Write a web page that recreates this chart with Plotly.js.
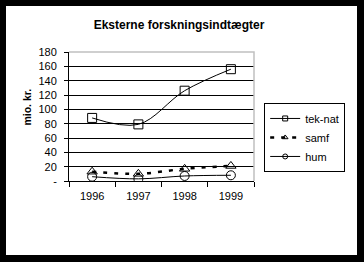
<!DOCTYPE html>
<html>
<head>
<meta charset="utf-8">
<script src="https://cdn.plot.ly/plotly-3.0.1.min.js"></script>
<style>
  html, body { margin: 0; padding: 0; background: #000; width: 364px; height: 262px; overflow: hidden; }
  #chart { position: absolute; left: 6px; top: 6px; width: 351px; height: 249px; background: #fff; }
</style>
</head>
<body>
<div id="chart"></div>
<script>
const years = ["1996", "1997", "1998", "1999"];
const tekNat = [88, 79, 126, 156];
const samf = [13, 10, 17, 21];
const hum = [6, 3, 7, 8];
const seriesNames = ["tek-nat", "samf", "hum"];
const yTickVals = [0, 20, 40, 60, 80, 100, 120, 140, 160, 180];
const yTickText = ["-", "20", "40", "60", "80", "100", "120", "140", "160", "180"];

const font = "Liberation Sans, Arial, sans-serif";

const styles = [
  { line: { color: "#000", width: 1, shape: "spline" }, symbol: "square-open" },
  { line: { color: "#000", width: 2.5, dash: "4px,7px", shape: "spline" }, symbol: "triangle-up-open" },
  { line: { color: "#000", width: 1, shape: "spline" }, symbol: "circle-open" }
];
const values = [tekNat, samf, hum];

const traces = [];
values.forEach((v, i) => {
  traces.push({
    x: years, y: v, name: seriesNames[i], type: "scatter", mode: "lines+markers",
    showlegend: false,
    line: styles[i].line,
    marker: { symbol: styles[i].symbol, size: 9, color: "#000", line: { width: 1 } }
  });
});
// legend-only entries with small symbols, as in the reference legend
values.forEach((v, i) => {
  traces.push({
    x: [null], y: [null], name: seriesNames[i], type: "scatter", mode: "lines+markers",
    showlegend: true,
    line: Object.assign({}, styles[i].line, { shape: "linear" }),
    marker: { symbol: styles[i].symbol, size: 5, color: "#000", line: { width: 1 } }
  });
});

const layout = {
  width: 351, height: 249,
  margin: { l: 63, r: 98, t: 46, b: 74, pad: 0 },
  paper_bgcolor: "#fff", plot_bgcolor: "#fff",
  font: { family: font, size: 11, color: "#000" },
  title: {
    text: "<b>Eksterne forskningsindtægter</b>",
    font: { family: font, size: 12, color: "#000" },
    x: 173 / 351, xanchor: "center", y: 1 - 19 / 249, yanchor: "middle", xref: "container", yref: "container"
  },
  showlegend: true,
  legend: {
    x: 1.055, xanchor: "left", y: 0.605, yanchor: "top",
    bordercolor: "#000", borderwidth: 1, bgcolor: "#fff",
    font: { family: font, size: 11, color: "#000" },
    tracegroupgap: 0
  },
  xaxis: {
    type: "category", range: [-0.5, 3.5],
    showline: true, linecolor: "#000", linewidth: 1,
    ticks: "outside", ticklen: 5, tickcolor: "#000", tickson: "boundaries",
    showgrid: false, zeroline: false,
    ticklabelstandoff: 5,
    tickfont: { family: font, size: 11, color: "#000" },
    fixedrange: true
  },
  yaxis: {
    range: [0, 180], tickvals: yTickVals, ticktext: yTickText,
    showline: true, linecolor: "#000", linewidth: 1,
    ticks: "outside", ticklen: 4, tickcolor: "#000",
    showgrid: true, gridcolor: "#000", gridwidth: 1, zeroline: false,
    ticklabelstandoff: 5,
    tickfont: { family: font, size: 11, color: "#000" },
    fixedrange: true
  },
  shapes: [
    { type: "path", xref: "paper", yref: "paper", path: "M0,1 L1,1 L1,0", line: { color: "#c0c0c0", width: 1.5 }, layer: "above" }
  ],
  annotations: [
    {
      text: "<b>mio. kr.</b>", xref: "paper", yref: "paper",
      x: -(63 - 20) / 190, y: 0.57, xanchor: "center", yanchor: "middle",
      textangle: -90, showarrow: false,
      font: { family: font, size: 10.5, color: "#000" }
    }
  ]
};

Plotly.newPlot("chart", traces, layout, { displayModeBar: false, staticPlot: true });
</script>
</body>
</html>
